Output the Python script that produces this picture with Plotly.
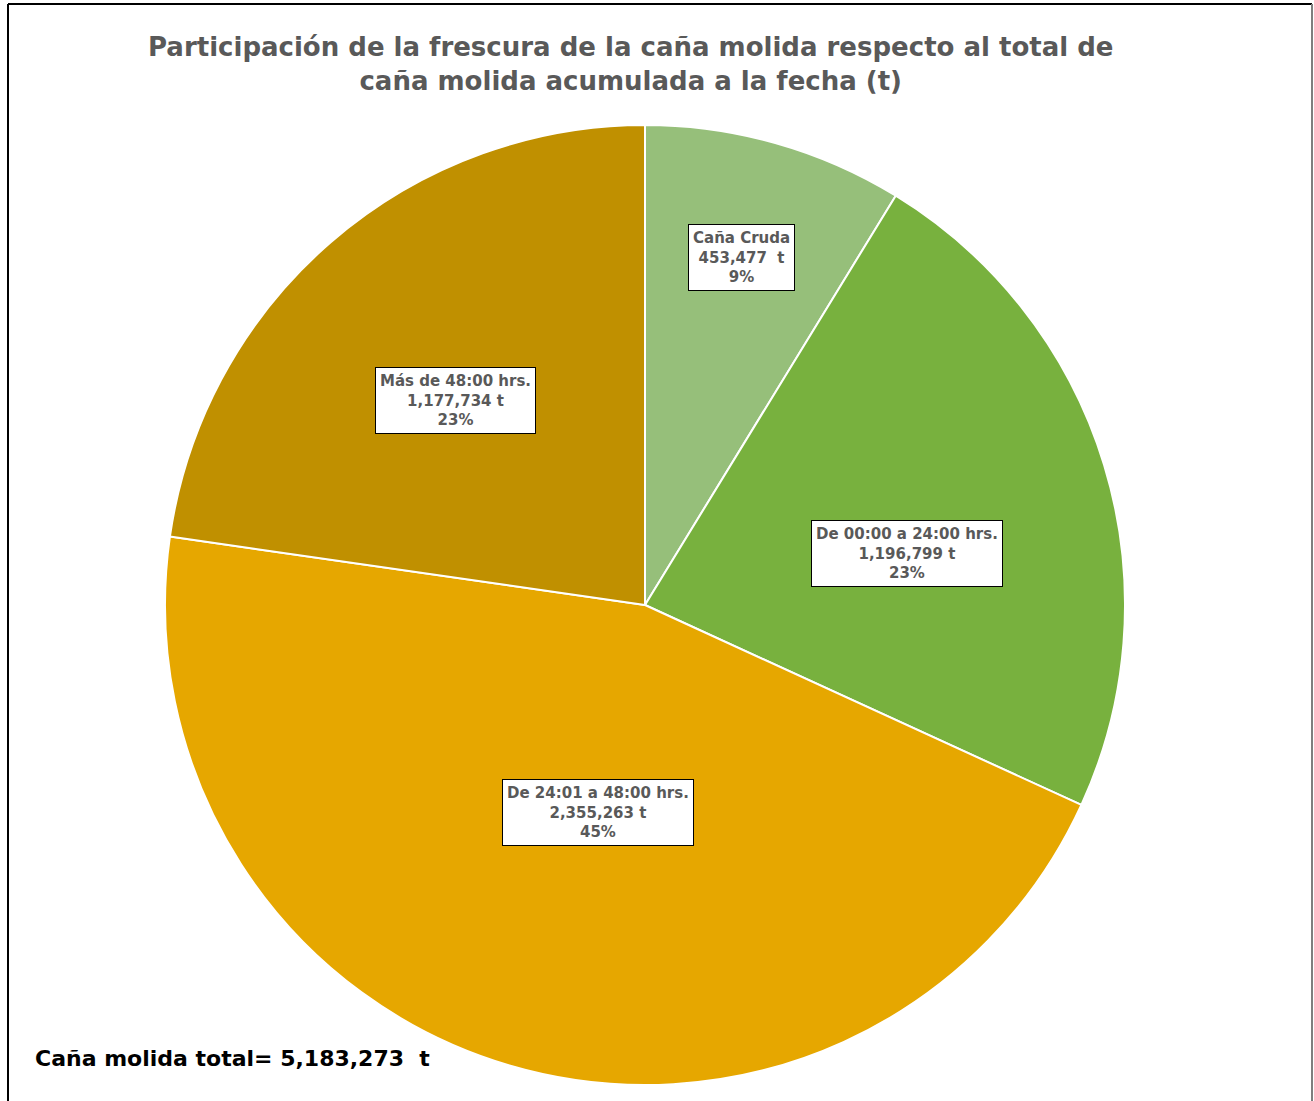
import plotly.graph_objects as go

# ---- data ----
categories = ["Caña Cruda", "De 00:00 a 24:00 hrs.", "De 24:01 a 48:00 hrs.", "Más de 48:00 hrs."]
values = [453477, 1196799, 2355263, 1177734]
unit_suffix = ["  t", " t", " t", " t"]
colors = ["#96bf7a", "#78b13e", "#e6a700", "#c09000"]
title_text = "Participación de la frescura de la caña molida respecto al total de<br>caña molida acumulada a la fecha (t)"

W, H = 1314, 1101
cx, cy, R = 645, 605, 480
FONT = "DejaVu Sans"

total = sum(values)

fig = go.Figure()
fig.add_trace(go.Pie(
    labels=categories,
    values=values,
    sort=False,
    direction="clockwise",
    rotation=0,
    marker=dict(colors=colors, line=dict(color="white", width=2)),
    textinfo="none",
    hoverinfo="none",
    showlegend=False,
    domain=dict(x=[(cx - R) / W, (cx + R) / W], y=[(H - cy - R) / H, (H - cy + R) / H]),
))

# label boxes (positions in pixels)
label_pos = [(741, 257), (907, 553), (598, 812), (455, 400)]
for cat, v, suf, (px, py) in zip(categories, values, unit_suffix, label_pos):
    pct = round(100 * v / total)
    txt = f"<b>{cat}<br>{v:,}{suf}<br>{pct}%</b>"
    fig.add_annotation(
        x=px / W, y=1 - py / H, xref="paper", yref="paper",
        text=txt, showarrow=False,
        font=dict(family=FONT, size=15, color="#595959"),
        bgcolor="white", bordercolor="black", borderwidth=1, borderpad=4,
        align="center", xanchor="center", yanchor="middle",
    )

fig.add_annotation(
    x=33 / W, y=1 - 1058 / H, xref="paper", yref="paper",
    text=f"<b>Caña molida total= {total:,}  t</b>", showarrow=False,
    font=dict(family=FONT, size=22, color="black"),
    xanchor="left", yanchor="middle",
)

fig.add_annotation(
    x=630 / W, y=1 - 64 / H, xref="paper", yref="paper",
    text=f"<b>{title_text}</b>", showarrow=False,
    font=dict(family=FONT, size=26, color="#595959"),
    xanchor="center", yanchor="middle", align="center",
)

# frame
fig.add_shape(type="line", xref="paper", yref="paper", x0=8 / W, x1=8 / W, y0=-0.05, y1=1 - 4 / H,
              line=dict(color="black", width=2))
fig.add_shape(type="line", xref="paper", yref="paper", x0=8 / W, x1=1312 / W, y0=1 - 4 / H, y1=1 - 4 / H,
              line=dict(color="black", width=2))
fig.add_shape(type="line", xref="paper", yref="paper", x0=1312 / W, x1=1312 / W, y0=-0.05, y1=1 - 4 / H,
              line=dict(color="#7f7f7f", width=2))

fig.update_layout(
    width=W, height=H,
    margin=dict(l=0, r=0, t=0, b=0),
    paper_bgcolor="white", plot_bgcolor="white",
)

fig.write_html("out.html", config={"displayModeBar": False},
               post_script="document.body.style.margin='0';document.body.style.overflow='hidden';")
